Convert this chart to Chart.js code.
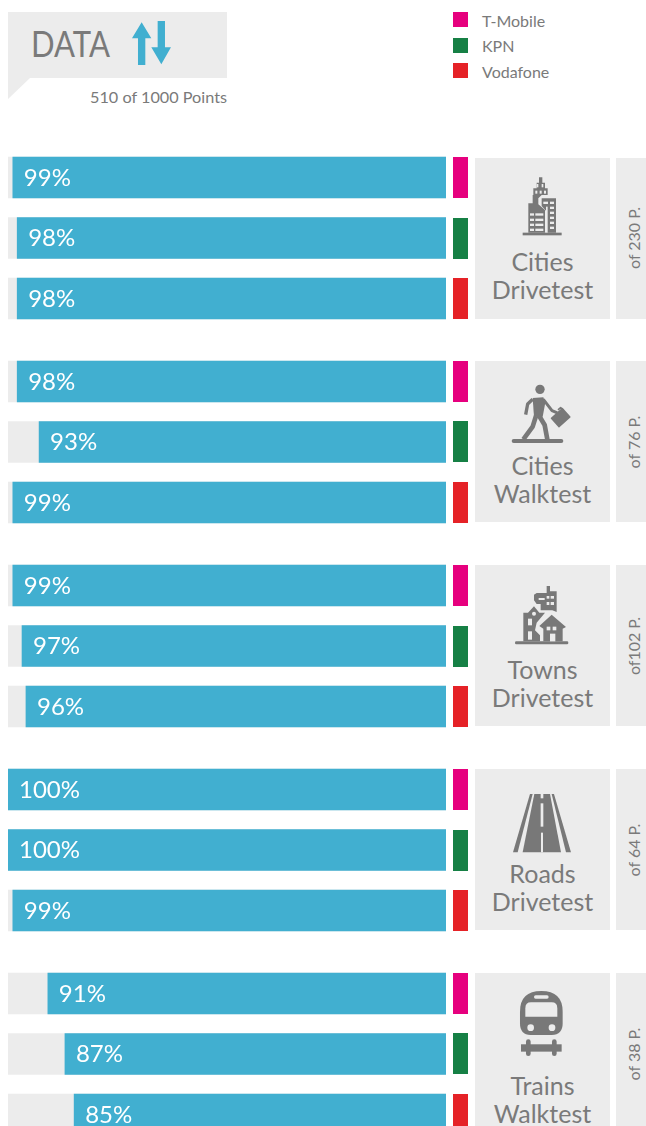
<!DOCTYPE html>
<html>
<head>
<meta charset="utf-8">
<title>Data points</title>
<script src="https://cdn.jsdelivr.net/npm/chart.js@4/dist/chart.umd.min.js"></script>
<style>
  html, body { margin: 0; padding: 0; background: #fff; overflow: hidden; }
  #page { position: relative; width: 646px; height: 1126px; overflow: hidden; font-family: Lato, sans-serif; }
  #page svg { position: absolute; left: 0; top: 0; }
  .bars { position: absolute; left: 8px; }
  .bars canvas { display: block; }
  .ico { fill: #787878; }
  .hole { fill: #ececec; }
</style>
</head>
<body>
<div id="page">
<svg id="art" width="646" height="1126" xmlns="http://www.w3.org/2000/svg">
  <!-- header callout -->
  <path d="M8 12H227V78H30L8 99Z" fill="#ececec"/>
  <g transform="translate(0,5) scale(0.3333)" fill="#41afd0">
    <path d="M396 100L425 52L454 100H436V180H414V100Z"/>
    <path d="M473 48H495V127H513L484 178L454 127H473Z"/>
  </g>
  <!-- cities drivetest icon -->
  <g id="ico0" transform="translate(510,170) scale(0.3333)">
    <rect class="ico" x="38" y="188" width="117" height="8"/>
    <path class="ico" d="M55 188V100H68V75H70V55H80V38H87V22H97V38H105V55H113V75H95L85 85V103L105 120V188Z"/>
    <path class="ico" d="M95 85H138V188H108V122L95 108Z"/>
    <g class="hole">
      <rect x="80" y="42" width="5" height="10"/><rect x="95" y="42" width="5" height="10"/>
      <rect x="76" y="62" width="6" height="9"/><rect x="89" y="62" width="6" height="9"/><rect x="102" y="62" width="6" height="9"/>
      <rect x="60" y="130" width="12" height="7"/><rect x="76" y="130" width="24" height="7"/>
      <rect x="60" y="146" width="12" height="7"/><rect x="76" y="146" width="24" height="7"/>
      <rect x="60" y="161" width="12" height="7"/><rect x="76" y="161" width="24" height="7"/>
      <rect x="60" y="176" width="12" height="7"/><rect x="76" y="176" width="24" height="7"/>
      <rect x="100" y="95" width="14" height="7"/><rect x="120" y="95" width="12" height="7"/>
      <rect x="108" y="110" width="5" height="78"/>
      <rect x="120" y="110" width="12" height="7"/><rect x="120" y="125" width="12" height="7"/><rect x="120" y="140" width="12" height="7"/><rect x="120" y="155" width="12" height="7"/><rect x="120" y="170" width="12" height="7"/>
    </g>
  </g>
  <!-- cities walktest icon -->
  <g id="ico1" transform="translate(510,380) scale(0.3333)">
    <rect class="ico" x="5" y="177" width="155" height="12" rx="6"/>
    <circle class="ico" cx="90" cy="28" r="14"/>
    <path class="ico" d="M68 54L100 52L106 68L98 110L72 110Z"/>
    <g fill="none" stroke="#787878" stroke-linejoin="round">
      <path d="M68 58L53 72L47 104" stroke-width="10"/>
      <path d="M100 58L126 92L142 99" stroke-width="9"/>
      <path d="M86 105L104 135L112 178" stroke-width="14"/>
      <path d="M78 108L68 140L40 178" stroke-width="14"/>
      <path d="M144 90l8-7 8 8" stroke-width="5"/>
    </g>
    <rect class="ico" x="-24" y="-19" width="48" height="38" rx="2" transform="translate(152,113) rotate(-42)"/>
  </g>
  <!-- towns drivetest icon -->
  <g id="ico2" transform="translate(510,582) scale(0.3333)">
    <rect class="ico" x="15" y="178" width="160" height="9" rx="4"/>
    <path class="ico" d="M110 12H120V28H140V90L127 85H92L92 66H80L72 55V38L80 33H110Z"/>
    <g class="hole"><rect x="86" y="48" width="18" height="6"/><rect x="110" y="42" width="8" height="8"/><rect x="122" y="42" width="10" height="8"/><rect x="110" y="60" width="8" height="9"/><rect x="122" y="60" width="10" height="9"/></g>
    <path class="ico" d="M40 178V92H54L72 73L88 92H105L80 122L75 145L90 160V178Z"/>
    <g class="hole"><circle cx="72" cy="95" r="6"/><rect x="54" y="110" width="12" height="20"/><rect x="54" y="148" width="12" height="25"/></g>
    <path class="ico" d="M88 132L125 98L168 135L158 140V178H100V140Z"/>
    <g class="hole"><rect x="110" y="134" width="11" height="11"/><rect x="128" y="134" width="11" height="11"/><rect x="120" y="155" width="16" height="23"/></g>
  </g>
  <!-- roads drivetest icon -->
  <g id="ico3" transform="translate(440,760) scale(0.3333)">
    <path class="ico" d="M219 277L270 102H278L233 277Z"/>
    <path class="ico" d="M248 277L283 102H330L363 277Z"/>
    <path class="ico" d="M378 277L335 102H342L393 277Z"/>
    <g class="hole"><rect x="302" y="102" width="8" height="13"/><rect x="302" y="130" width="8" height="70"/><rect x="303" y="218" width="6" height="59"/></g>
  </g>
  <!-- trains walktest icon -->
  <g id="ico4" transform="translate(440,760) scale(0.3333)">
    <path class="ico" d="M240 790V755Q240 693 304 693Q368 693 368 755V790Q368 825 335 825H272Q240 825 240 790Z"/>
    <path class="hole" d="M256 770V745Q256 727 273 727H335Q352 727 352 745V770Z"/>
    <rect class="hole" x="282" y="706" width="44" height="10" rx="5"/>
    <circle class="hole" cx="272" cy="803" r="10"/><circle class="hole" cx="336" cy="803" r="10"/>
    <rect class="ico" x="243" y="853" width="122" height="22"/>
    <rect class="ico" x="258" y="838" width="14" height="50" rx="7"/><rect class="ico" x="336" y="838" width="14" height="50" rx="7"/>
  </g>
</svg>
</div>
<script>
const carrierNames = ["T-Mobile", "KPN", "Vodafone"];
const carrierColors = ["#e6007e", "#168045", "#e52227"];

const testNames = [
  ["Cities", "Drivetest"],
  ["Cities", "Walktest"],
  ["Towns", "Drivetest"],
  ["Roads", "Drivetest"],
  ["Trains", "Walktest"],
];
const pointLabels = ["of 230 P.", "of 76 P.", "of102 P.", "of 64 P.", "of 38 P."];

// bar lengths, labels show them rounded
const citiesDrive = [98.9, 97.9, 97.9];
const citiesWalk = [97.9, 92.9, 98.9];
const townsDrive = [98.9, 96.8, 95.9];
const roadsDrive = [100, 100, 98.9];
const trainsWalk = [90.9, 87, 84.9];
const trackValues = [100, 100, 100];

const groups = [citiesDrive, citiesWalk, townsDrive, roadsDrive, trainsWalk];

// layout
const groupTop = [157, 361, 565, 769, 973];
const panelTop = [158, 361, 565, 769, 973];
const secondRow = [61, 60, 61, 61, 60];
const canvasH = 182;
const textGrey = "#7a7a7a";

const NS = "http://www.w3.org/2000/svg";
const art = document.getElementById("art");
function addRect(x, y, w, h, fill) {
  const r = document.createElementNS(NS, "rect");
  r.setAttribute("x", x); r.setAttribute("y", y);
  r.setAttribute("width", w); r.setAttribute("height", h);
  r.setAttribute("fill", fill);
  art.insertBefore(r, art.firstChild);
}
function addText(str, x, y, size, width, anchor, rotate) {
  const t = document.createElementNS(NS, "text");
  t.textContent = str;
  t.setAttribute("x", x); t.setAttribute("y", y);
  t.setAttribute("font-size", size);
  t.setAttribute("fill", textGrey);
  t.setAttribute("text-anchor", anchor || "start");
  if (width) {
    t.setAttribute("textLength", width);
    t.setAttribute("lengthAdjust", "spacingAndGlyphs");
  }
  if (rotate) t.setAttribute("transform", "rotate(" + rotate + " " + x + " " + y + ")");
  art.appendChild(t);
}

// header
addText("DATA", 31, 57, 36, 79);
addText("510 of 1000 Points", 227, 103, 16, 137, "end");
carrierNames.forEach(function (name, i) {
  addRect(453, [12, 38, 63][i], 15, 15, carrierColors[i]);
  addText(name, 482, [27, 52, 78][i], 16, null);
});

// labels inside the bars
const barLabels = {
  id: "barLabels",
  afterDatasetsDraw(chart) {
    const ctx = chart.ctx;
    const meta = chart.getDatasetMeta(1);
    ctx.save();
    ctx.fillStyle = "#ffffff";
    ctx.font = "24px Lato";
    ctx.textBaseline = "middle";
    meta.data.forEach(function (bar, i) {
      const label = Math.round(chart.data.datasets[1].data[i]) + "%";
      ctx.fillText(label, bar.x + 11, bar.y + 0.5);
    });
    ctx.restore();
  },
};

function createGroupChart(values, top) {
  const wrap = document.createElement("div");
  wrap.className = "bars";
  wrap.style.top = top - 10 + "px";
  wrap.style.width = "438px";
  wrap.style.height = canvasH + "px";
  const canvas = document.createElement("canvas");
  canvas.width = 438;
  canvas.height = canvasH;
  wrap.appendChild(canvas);
  document.getElementById("page").appendChild(wrap);

  new Chart(canvas.getContext("2d"), {
    type: "bar",
    data: {
      labels: carrierNames,
      datasets: [
        {
          data: trackValues,
          backgroundColor: "#ececec",
          borderWidth: 0,
          barThickness: 41,
          grouped: false,
          order: 2,
        },
        {
          data: values,
          backgroundColor: "#41afd0",
          borderWidth: 0,
          barThickness: 41,
          grouped: false,
          order: 1,
        },
      ],
    },
    options: {
      indexAxis: "y",
      responsive: false,
      animation: false,
      layout: { padding: { top: 0.25, bottom: 0.25 } },
      plugins: {
        legend: { display: false },
        tooltip: { enabled: false },
      },
      scales: {
        x: { display: false, min: 0, max: 100, reverse: true },
        y: { display: false },
      },
    },
    plugins: [barLabels],
  });
}

groups.forEach(function (values, g) {
  const top = groupTop[g];
  createGroupChart(values, top);

  [0, secondRow[g], 121].forEach(function (off, i) {
    addRect(453, top + off, 15, 41, carrierColors[i]);
  });
  addRect(475, panelTop[g], 135, 161, "#ececec");
  addRect(616, panelTop[g], 30, 161, "#ececec");

  const shift = g === 4 ? 8 : 0;
  addText(testNames[g][0], 542.5, top + 114 + shift, 25, null, "middle");
  addText(testNames[g][1], 542.5, top + 142 + shift, 25, null, "middle");
  addText(pointLabels[g], 639.5, top + 81, 16, null, "middle", -90);
});
</script>
</body>
</html>
